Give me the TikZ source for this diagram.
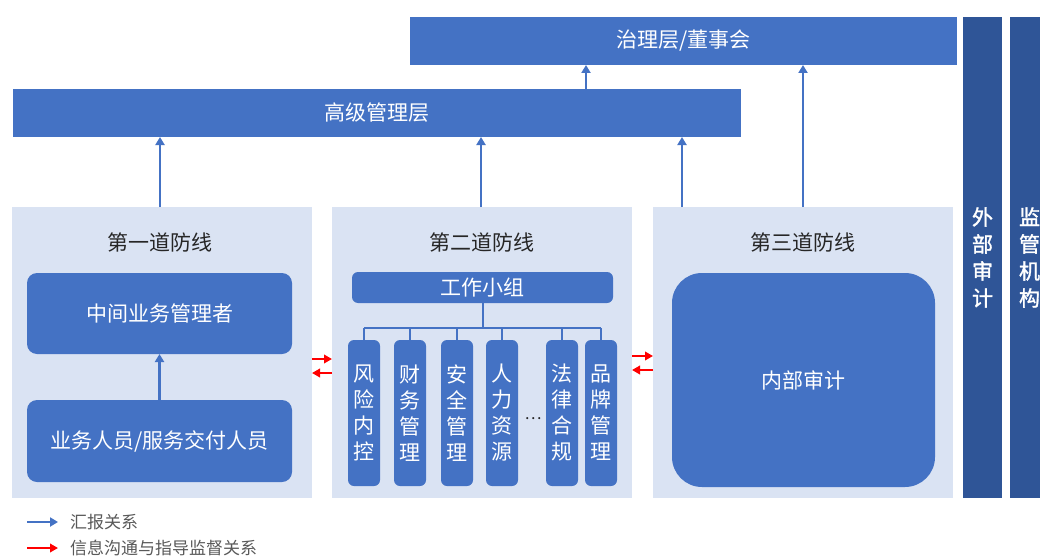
\documentclass[tikz,border=0pt]{standalone}
\usepackage{fontspec}
\newfontfamily\cjk{Noto Sans CJK SC}
\newfontfamily\cjkb[FakeBold=1.5]{Noto Sans CJK SC}
\usetikzlibrary{arrows.meta,calc}
\definecolor{mblue}{HTML}{4472C4}
\definecolor{pbg}{HTML}{DAE3F3}
\definecolor{dblue}{HTML}{2F5597}
\definecolor{ttl}{HTML}{262626}
\definecolor{lgd}{HTML}{595959}
\begin{document}
\begin{tikzpicture}[x=1pt,y=-1pt,
 bar/.style={fill=mblue, draw=none, text=white, inner sep=0pt, outer sep=0pt, font=\cjk\fontsize{21}{25}\selectfont},
 panel/.style={fill=pbg, draw=none, inner sep=0pt, outer sep=0pt, minimum width=300pt, minimum height=291pt},
 rbox/.style={bar, rounded corners=10pt},
 vbox/.style={bar, rounded corners=6pt, minimum width=32pt, minimum height=146pt, align=center, font=\cjk\fontsize{21}{26}\selectfont},
 dbar/.style={fill=dblue, text=white, inner sep=0pt, outer sep=0pt, minimum width=39pt, minimum height=481pt, align=center, font=\cjkb\fontsize{21}{27}\selectfont},
 ptitle/.style={text=ttl, font=\cjk\fontsize{21}{25}\selectfont, inner sep=0pt},
 barrow/.style={draw=mblue, line width=2.8pt, -{Triangle[length=8pt,width=9pt]}},
 rarrow/.style={draw=red, line width=2.6pt, -{Triangle[length=8pt,width=8.5pt]}},
 tline/.style={draw=mblue, line width=2pt},
 lgdtext/.style={text=lgd, font=\cjk\fontsize{17}{20}\selectfont, anchor=west, inner sep=0pt}
]
\useasboundingbox (0,0) rectangle (1040,559);
\clip (0,0) rectangle (1040,559);
\fill[white] (0,0) rectangle (1040,559);

% top bars
\node[bar, minimum width=547pt, minimum height=48pt] (gov) at (683.5,41) {治理层/董事会};
\node[bar, minimum width=728pt, minimum height=48pt] (sm) at (377,113) {高级管理层};

% panels
\node[panel] (p1) at (162,352.5) {};
\node[panel] (p2) at (482,352.5) {};
\node[panel] (p3) at (803,352.5) {};
\node[ptitle] (t1) at (160,242) {第一道防线};
\node[ptitle] (t2) at (482,242) {第二道防线};
\node[ptitle] (t3) at (803,242) {第三道防线};

% right bars
\node[dbar] (ext) at (982.5,257.5) {外\\部\\审\\计};
\node[dbar] (reg) at (1029.5,257.5) {监\\管\\机\\构};

% panel 1
\node[rbox, minimum width=265pt, minimum height=81pt] (mgr) at (159.5,313.5) {中间业务管理者};
\node[rbox, minimum width=265pt, minimum height=82pt] (staff) at (159.5,441) {业务人员/服务交付人员};

% panel 2
\node[bar, rounded corners=6pt, minimum width=261pt, minimum height=31pt] (wg) at (482.5,287.5) {工作小组};
\node[vbox] (b1) at (364,413) {风\\险\\内\\控};
\node[vbox] (b2) at (410,413) {财\\务\\管\\理};
\node[vbox] (b3) at (457,413) {安\\全\\管\\理};
\node[vbox] (b4) at (502,413) {人\\力\\资\\源};
\node[vbox] (b5) at (562,413) {法\\律\\合\\规};
\node[vbox] (b6) at (601,413) {品\\牌\\管\\理};
\node[text=ttl, font=\cjk\fontsize{16}{18}\selectfont, inner sep=0pt] (dots) at (533,419) {…};
\coordinate (bus) at (482,328);
\draw[tline] (wg.south) -- (wg.south |- bus);
\draw[tline] (b1.north |- bus) -- (b6.north |- bus);
\foreach \b in {b1,b2,b3,b4,b5,b6} {
  \draw[tline] (\b.north |- bus) -- (\b.north);
}

% panel 3
\node[bar, rounded corners=30pt, minimum width=263pt, minimum height=214pt] (ia) at (803.5,380) {内部审计};

% blue arrows
\draw[barrow] (staff.north) -- (mgr.south);
\draw[barrow] ([xshift=-2pt]p1.north) -- ([xshift=-2pt]p1.north |- sm.south);
\draw[barrow] ([xshift=-1pt]p2.north) -- ([xshift=-1pt]p2.north |- sm.south);
\draw[barrow] ([xshift=-121pt]p3.north) -- ([xshift=-121pt]p3.north |- sm.south);
\draw[barrow] (p3.north) -- (p3.north |- gov.south);
\draw[barrow] ([xshift=209pt]sm.north) -- ([xshift=209pt]sm.north |- gov.south);

% red arrows
\draw[rarrow] (p1.east |- 0,359) -- (p2.west |- 0,359);
\draw[rarrow] (p2.west |- 0,373) -- (p1.east |- 0,373);
\draw[rarrow] (p2.east |- 0,356) -- (p3.west |- 0,356);
\draw[rarrow] (p3.west |- 0,370) -- (p2.east |- 0,370);

% legend
\coordinate (l1a) at (27,522);
\coordinate (l1b) at (58,522);
\coordinate (l2a) at (27,548);
\coordinate (l2b) at (58,548);
\draw[barrow] (l1a) -- (l1b);
\draw[rarrow] (l2a) -- (l2b);
\node[lgdtext] (lg1) at (70,522) {汇报关系};
\node[lgdtext] (lg2) at (70,548) {信息沟通与指导监督关系};
\end{tikzpicture}
\end{document}
